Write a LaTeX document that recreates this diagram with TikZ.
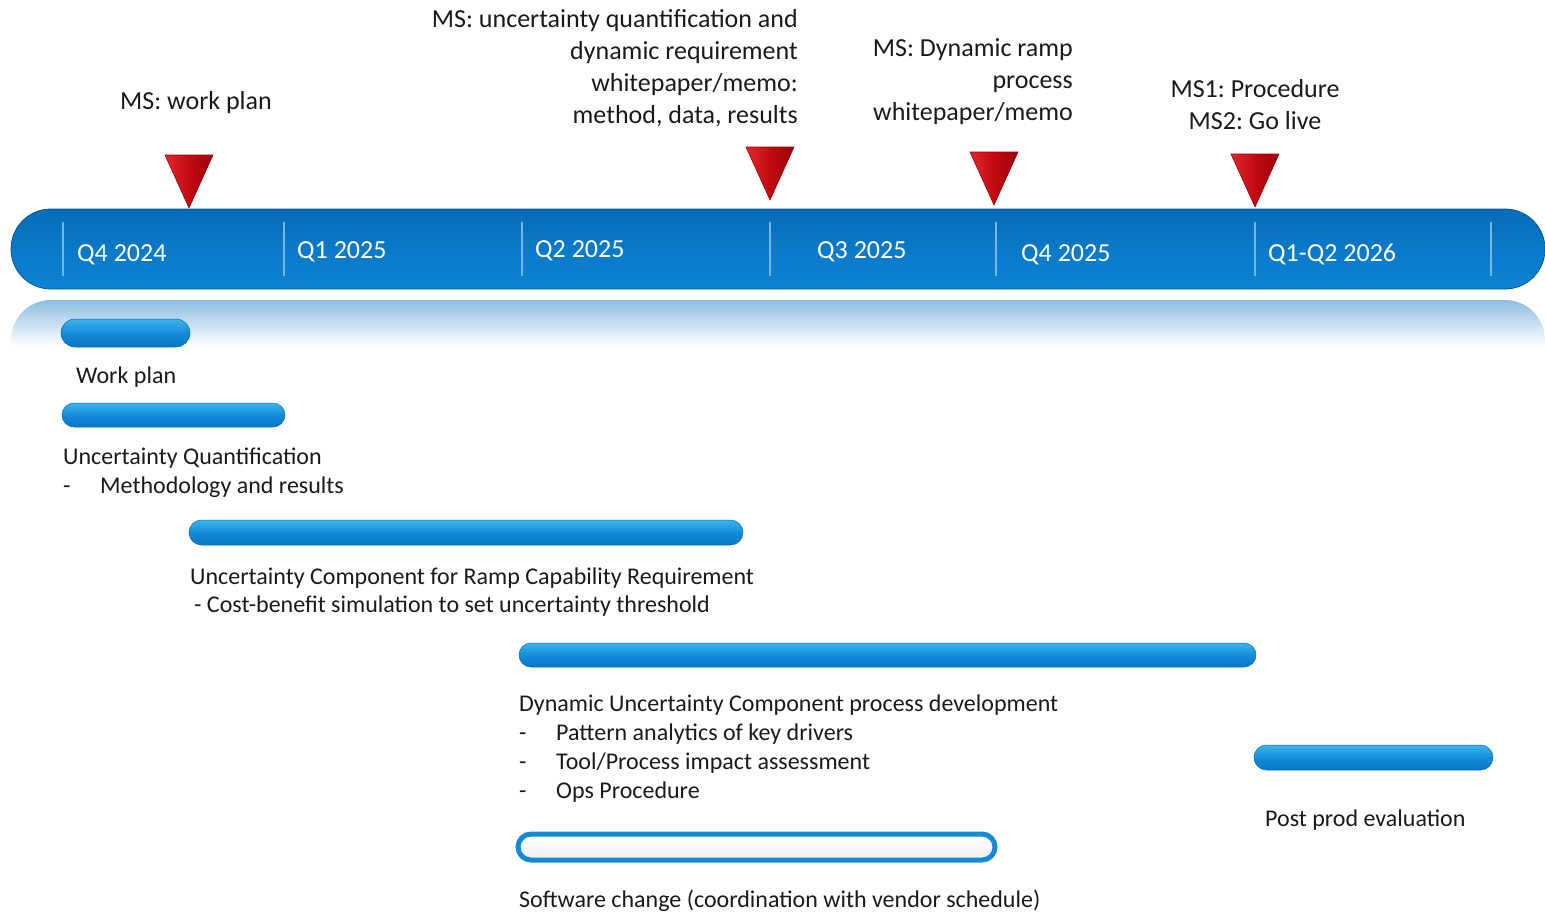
\documentclass[tikz,border=0pt]{standalone}
\usepackage{fontspec}
\setmainfont{Carlito}
\frenchspacing
\usetikzlibrary{shapes.geometric}
\definecolor{barmid}{HTML}{0A79C9}
\definecolor{bartop}{HTML}{066CB9}
\definecolor{barbot}{HTML}{0E84D3}
\definecolor{divc}{HTML}{78B6E4}
\definecolor{gtop}{HTML}{3CB4EE}
\definecolor{gmid}{HTML}{148CD8}
\definecolor{gbot}{HTML}{0876C6}
\definecolor{reftop}{HTML}{8DBDE2}
\definecolor{mred}{HTML}{C20A12}
\definecolor{mredl}{HTML}{E4262C}
\definecolor{mredd}{HTML}{9A0008}
\definecolor{txt}{HTML}{1A1A1A}
\definecolor{obarc}{HTML}{1589D6}
\tikzset{
  mainbar/.style={draw=bartop!80!black, line width=0.8pt, top color=bartop, bottom color=barbot, middle color=barmid,
    minimum width=1534pt, minimum height=80pt, rounded corners=40pt, inner sep=0pt},
  gbar/.style={top color=gtop, bottom color=gbot, middle color=gmid, draw=gbot!90!black, line width=0.5pt, inner sep=0pt},
  obar/.style={draw=obarc, line width=5pt, top color=white, bottom color=black!6, inner sep=0pt},
  divline/.style={draw=divc, line width=1.8pt},
  mslbl/.style={font=\fontsize{26}{32}\selectfont, text=txt, inner sep=0pt},
  qlbl/.style={font=\fontsize{26}{32}\selectfont, text=white, inner sep=0pt, anchor=base west},
  body/.style={font=\fontsize{24}{29}\selectfont, text=txt, inner sep=0pt, anchor=base west, align=left},
  mstri/.style={left color=mredl, right color=mredd, middle color=mred, draw=mredd, line width=0.6pt},
}
\newcommand{\itm}[1]{\makebox[37pt][l]{-}#1}
\begin{document}
\begin{tikzpicture}[x=1pt,y=-1pt]
\useasboundingbox (0,0) rectangle (1545,911);
% reflection
\shade[top color=reftop, bottom color=white] (11,346) -- (11,340) to[out=90,in=180] (51,300) -- (1505,300) to[out=0,in=90] (1545,340) -- (1545,346) -- cycle;
% main bar
\node[mainbar] (tl) at (778,249) {};
% dividers
\foreach \xx/\nm in {63/d0,284/d1,522/d2,770/d3,996/d4,1255/d5,1491/d6}{
  \coordinate (\nm t) at (\xx,222);
  \coordinate (\nm b) at (\xx,276);
  \draw[divline] (\nm t) -- (\nm b);
}
% quarter labels
\node[qlbl] (q1) at (77,261) {Q4 2024};
\node[qlbl] (q2) at (297,258) {Q1 2025};
\node[qlbl] (q3) at (535,257) {Q2 2025};
\node[qlbl] (q4) at (817,258) {Q3 2025};
\node[qlbl] (q5) at (1021,261) {Q4 2025};
\node[qlbl] (q6) at (1268,261) {Q1-Q2 2026};
% milestone triangles
\foreach \xx/\yy/\nm in {189/208/m1,770/200/m2,994/205/m3,1255/207/m4}{
  \coordinate (\nm) at (\xx,\yy);
  \shade[mstri] (\nm) -- ++(-24,-53) -- ++(48,0) -- cycle;
}
% milestone labels (base anchor = last line)
\node[mslbl, anchor=base west] (ms1) at (120,109) {MS: work plan};
\node[mslbl, anchor=base east, align=right] (ms2) at (798,123) {MS: uncertainty quantification and\\dynamic requirement\\whitepaper/memo:\\method, data, results};
\node[mslbl, anchor=base east, align=right] (ms3) at (1073,120) {MS: Dynamic ramp\\process\\whitepaper/memo};
\node[mslbl, anchor=base, align=center] (ms4) at (1255,129) {MS1: Procedure\\MS2: Go live};
% task bars
\node[gbar, minimum width=129pt, minimum height=28pt, rounded corners=14pt] (b1) at (125.5,333) {};
\node[gbar, minimum width=223pt, minimum height=24pt, rounded corners=12pt] (b2) at (173.5,415) {};
\node[gbar, minimum width=554pt, minimum height=25pt, rounded corners=12.5pt] (b3) at (466,532.5) {};
\node[gbar, minimum width=737pt, minimum height=24pt, rounded corners=12pt] (b4) at (887.5,655) {};
\node[gbar, minimum width=239pt, minimum height=25pt, rounded corners=12.5pt] (b5) at (1373.5,757.5) {};
\node[obar, minimum width=477pt, minimum height=26pt, rounded corners=13pt] (b6) at (756.5,847) {};
% task labels (base anchor = last line)
\node[body] (t1) at (76,383) {Work plan};
\node[body] (t2) at (63,493) {Uncertainty Quantification\\\itm{Methodology and results}};
\node[body, font=\fontsize{24}{28}\selectfont] (t3) at (190,612) {Uncertainty Component for Ramp Capability Requirement\\\hspace*{4pt}- Cost-benefit simulation to set uncertainty threshold};
\node[body] (t4) at (519,798) {Dynamic Uncertainty Component process development\\\itm{Pattern analytics of key drivers}\\\itm{Tool/Process impact assessment}\\\itm{Ops Procedure}};
\node[body] (t5) at (1265,826) {Post prod evaluation};
\node[body] (t6) at (519,907) {Software change (coordination with vendor schedule)};
\end{tikzpicture}
\end{document}
